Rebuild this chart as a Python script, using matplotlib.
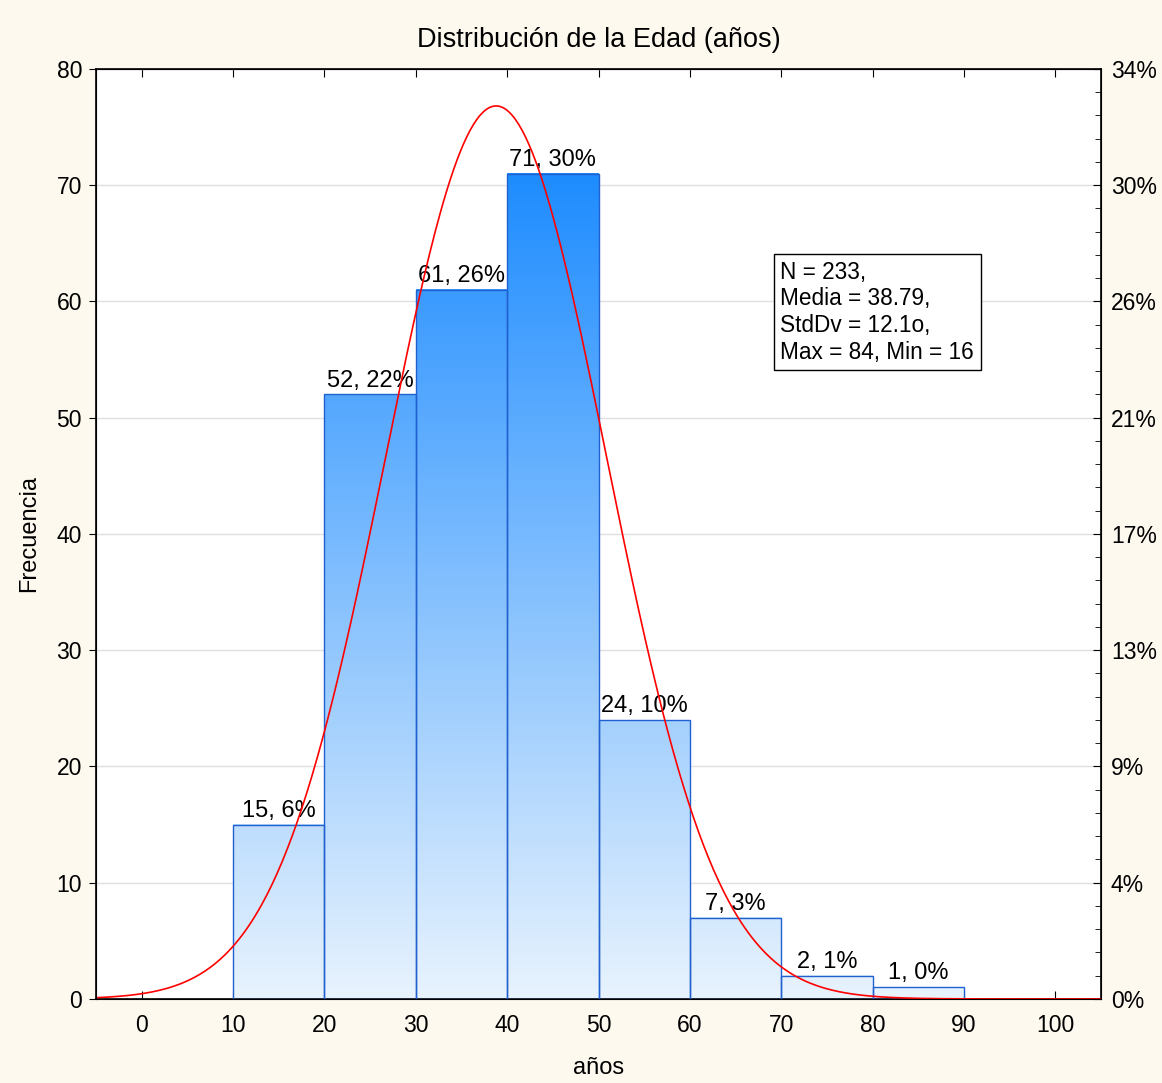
import matplotlib.pyplot as plt
import numpy as np
from matplotlib.colors import LinearSegmentedColormap
from matplotlib.patches import Rectangle

plt.rcParams['font.family'] = ['Liberation Sans', 'DejaVu Sans']

# age histogram data
bin_left = [10, 20, 30, 40, 50, 60, 70, 80]
bin_width = 10
counts = [15, 52, 61, 71, 24, 7, 2, 1]
n_total = 233
mean_age = 38.79
sd_age = 12.1
stats_text = 'N = 233,\nMedia = 38.79,\nStdDv = 12.1o,\nMax = 84, Min = 16'

y_ticks = [0, 10, 20, 30, 40, 50, 60, 70, 80]
pct_labels = ['0%', '4%', '9%', '13%', '17%', '21%', '26%', '30%', '34%']
x_ticks = [0, 10, 20, 30, 40, 50, 60, 70, 80, 90, 100]

bg = '#fdf9ef'
edge_blue = '#2060d0'
grad = LinearSegmentedColormap.from_list('grad', ['#e8f3fd', '#1e8cff'])

fig = plt.figure(figsize=(11.62, 10.83), dpi=100, facecolor=bg)
ax = fig.add_axes([0.0826, 0.0776, 0.865, 0.8587])
ax.set_facecolor('white')

ax.set_axisbelow(True)
ax.yaxis.grid(True, color='#e0e0e0', lw=1)

for left, c in zip(bin_left, counts):
    yy = np.linspace(0, c, 256)[:, None]
    ax.imshow(yy, extent=(left, left + bin_width, 0, c), origin='lower',
              aspect='auto', cmap=grad, vmin=0, vmax=max(counts), zorder=2)
    ax.add_patch(Rectangle((left, 0), bin_width, c, fill=False,
                           edgecolor=edge_blue, lw=1, zorder=3))
    pct = round(c / n_total * 100)
    ax.text(left + bin_width / 2, c + 0.25, f'{c}, {pct}%', ha='center',
            va='bottom', fontsize=17, zorder=4)

xs = np.linspace(-5, 105, 600)
pdf = np.exp(-0.5 * ((xs - mean_age) / sd_age) ** 2) / (sd_age * np.sqrt(2 * np.pi))
ax.plot(xs, pdf * n_total * bin_width, color='red', lw=1.2, zorder=5)

ax.text(69.9, 63.5, stats_text, ha='left', va='top', fontsize=16.3,
        linespacing=1.2, zorder=6,
        bbox=dict(boxstyle='square,pad=0.3', facecolor='white',
                  edgecolor='black', lw=1))

ax.set_xlim(-5, 105)
ax.set_ylim(0, 80)
ax.set_xticks(x_ticks)
ax.set_yticks(y_ticks)
ax.tick_params(axis='x', direction='in', length=6, pad=11, labelsize=16.5,
               top=True)
ax.tick_params(axis='y', direction='out', length=5, pad=5, labelsize=16.5)
for s in ax.spines.values():
    s.set_linewidth(1.2)

ax2 = ax.twinx()
ax2.set_ylim(0, 80)
ax2.set_yticks(y_ticks)
ax2.set_yticklabels(pct_labels)
ax2.set_yticks(np.arange(0, 81, 2), minor=True)
ax2.tick_params(axis='y', which='major', direction='in', length=6, pad=7,
                labelsize=16.5)
ax2.tick_params(axis='y', which='minor', direction='in', length=4)

ax.set_title('Distribución de la Edad (años)', fontsize=19.5, pad=16)
ax.set_xlabel('años', fontsize=17, labelpad=14)
ax.set_ylabel('Frecuencia', fontsize=17, labelpad=12)

fig.savefig('out.png', dpi=100, facecolor=bg)
